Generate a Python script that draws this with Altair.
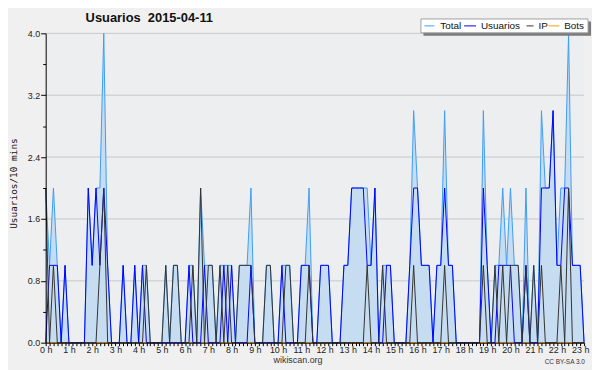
import altair as alt
import pandas as pd

# ---- data: one value every 10 minutes from 0:00 ----
slot = list(range(140))
total = [2, 1, 2, 1, 0, 1, 0, 0, 0, 0,
         0, 2, 1, 2, 2, 4, 1, 0, 0, 0,
         1, 0, 0, 1, 0, 1, 1, 0, 0, 0,
         0, 1, 0, 1, 1, 0, 0, 1, 1, 0,
         2, 1, 1, 1, 0, 1, 1, 1, 1, 0,
         1, 1, 1, 2, 0, 0, 0, 1, 1, 0,
         0, 1, 1, 1, 0, 0, 1, 1, 2, 0,
         0, 1, 1, 1, 0, 0, 0, 1, 1, 2,
         2, 2, 2, 2, 1, 2, 0, 1, 1, 1,
         0, 0, 0, 0, 1, 3, 2, 1, 1, 1,
         0, 1, 1, 3, 1, 1, 0, 0, 0, 0,
         0, 0, 0, 3, 1, 0, 1, 1, 2, 1,
         2, 1, 1, 0, 2, 0, 1, 0, 3, 2,
         2, 3, 1, 2, 2, 4, 1, 1, 1, 0]
usuarios = [0, 1, 1, 1, 0, 1, 0, 0, 0, 0,
            0, 2, 1, 2, 1, 2, 1, 0, 0, 0,
            1, 0, 0, 1, 0, 1, 0, 0, 0, 0,
            0, 0, 0, 0, 0, 0, 0, 1, 0, 0,
            0, 1, 0, 0, 0, 0, 1, 0, 1, 0,
            0, 0, 0, 1, 0, 0, 0, 0, 0, 0,
            0, 1, 0, 0, 0, 0, 1, 1, 1, 0,
            0, 1, 1, 1, 0, 0, 0, 1, 1, 2,
            2, 2, 2, 1, 1, 2, 0, 0, 1, 1,
            0, 0, 0, 0, 1, 2, 2, 1, 1, 1,
            0, 1, 1, 2, 1, 1, 0, 0, 0, 0,
            0, 0, 0, 2, 1, 0, 0, 1, 1, 1,
            1, 0, 0, 0, 1, 0, 0, 0, 2, 2,
            2, 3, 1, 1, 2, 2, 1, 1, 1, 0]
ip = [2, 0, 1, 0, 0, 0, 0, 0, 0, 0,
      0, 0, 0, 0, 1, 2, 0, 0, 0, 0,
      0, 0, 0, 0, 0, 0, 1, 0, 0, 0,
      0, 1, 0, 1, 1, 0, 0, 0, 1, 0,
      2, 0, 1, 1, 0, 1, 0, 1, 0, 0,
      1, 1, 1, 1, 0, 0, 0, 1, 1, 0,
      0, 0, 1, 1, 0, 0, 0, 0, 1, 0,
      0, 0, 0, 0, 0, 0, 0, 0, 0, 0,
      0, 0, 0, 1, 0, 0, 0, 1, 0, 0,
      0, 0, 0, 0, 0, 1, 0, 0, 0, 0,
      0, 0, 0, 1, 0, 0, 0, 0, 0, 0,
      0, 0, 0, 1, 0, 0, 1, 0, 1, 0,
      1, 1, 1, 0, 1, 0, 1, 0, 1, 0,
      0, 0, 0, 1, 0, 2, 0, 0, 0, 0]
bots = [0, 0, 0, 0, 0, 0, 0, 0, 0, 0,
        0, 0, 0, 0, 0, 0, 0, 0, 0, 0,
        0, 0, 0, 0, 0, 0, 0, 0, 0, 0,
        0, 0, 0, 0, 0, 0, 0, 0, 0, 0,
        0, 0, 0, 0, 0, 0, 0, 0, 0, 0,
        0, 0, 0, 0, 0, 0, 0, 0, 0, 0,
        0, 0, 0, 0, 0, 0, 0, 0, 0, 0,
        0, 0, 0, 0, 0, 0, 0, 0, 0, 0,
        0, 0, 0, 0, 0, 0, 0, 0, 0, 0,
        0, 0, 0, 0, 0, 0, 0, 0, 0, 0,
        0, 0, 0, 0, 0, 0, 0, 0, 0, 0,
        0, 0, 0, 0, 0, 0, 0, 0, 0, 0,
        0, 0, 0, 0, 0, 0, 0, 0, 0, 0,
        0, 0, 0, 0, 0, 0, 0, 0, 0, 0]

hour_labels = ["0 h", "1 h", "2 h", "3 h", "4 h", "5 h", "6 h", "7 h", "8 h",
               "9 h", "10 h", "11 h", "12 h", "13 h", "14 h", "15 h", "16 h",
               "17 h", "18 h", "19 h", "20 h", "21 h", "22 h", "23 h"]
y_ticks = [0.0, 0.4, 0.8, 1.2, 1.6, 2.0, 2.4, 2.8, 3.2, 3.6, 4.0]
grid_values = [0.8, 1.6, 2.4, 3.2, 4.0]
series_names = ["Total", "Usuarios", "IP", "Bots"]
series_colors = ["#3d9df5", "#0000ff", "#333333", "#ff9900"]

title_text = "Usuarios\u00a0\u00a02015-04-11"
y_title = "Usuarios/10 mins"
footer_text = "wikiscan.org"
license_text = "CC BY-SA 3.0"

df = pd.DataFrame({"slot": slot, "total": total, "usuarios": usuarios,
                   "ip": ip, "bots": bots})

FONT = "Liberation Sans"
label_arr = "[" + ",".join("'%s'" % s for s in hour_labels) + "]"

x_enc = alt.X(
    "slot:Q",
    scale=alt.Scale(domain=[0, 139], nice=False, zero=False),
    axis=alt.Axis(values=slot, labelExpr="datum.value % 6 == 0 ? " + label_arr + "[datum.value / 6] : ''",
                  tickSize=3, labelFlush=False, labelOverlap=False, grid=False, title=None,
                  domainColor="black", tickColor="black", labelFont=FONT, labelFontSize=9,
                  labelColor="#222222", labelPadding=0, zindex=1),
)
y_scale = alt.Scale(domain=[0, 4], nice=False)
y_axis = alt.Axis(values=y_ticks,
                  labelExpr="round(datum.value*10) % 8 == 0 ? format(datum.value, '.1f') : ''",
                  tickSize={"condition": {"test": "round(datum.value*10) % 8 == 0", "value": 5}, "value": 3},
                  grid=False, title=None, domainColor="black", tickColor="black",
                  labelFont=FONT, labelFontSize=9, labelColor="#222222", labelPadding=1, zindex=1)

base = alt.Chart(df).encode(x=x_enc)

grid = alt.Chart(pd.DataFrame({"g": grid_values})).mark_rule(color="#c8c8c8", strokeWidth=1).encode(
    y=alt.Y("g:Q", scale=y_scale, axis=y_axis))
area = base.mark_area(color="#c6dcf0", opacity=1).encode(y=alt.Y("total:Q", scale=y_scale, axis=y_axis))
line_of = {}
for field, col in zip(["total", "usuarios", "ip", "bots"], series_colors):
    line_of[field] = base.mark_line(color=col, strokeWidth=1).encode(
        y=alt.Y(field + ":Q", scale=y_scale, axis=y_axis))
lines = [line_of["bots"], line_of["total"], line_of["usuarios"], line_of["ip"]]

one = pd.DataFrame({"a": [0]})

# legend box
leg_shadow = alt.Chart(one).mark_rect(color="#7a7a7a").encode(
    x=alt.value(381), x2=alt.value(550), y=alt.value(-12), y2=alt.value(2.5))
leg_box = alt.Chart(one).mark_rect(fill="white", stroke="#a0a0a0", strokeWidth=1).encode(
    x=alt.value(378.5), x2=alt.value(547), y=alt.value(-14.5), y2=alt.value(-0.5))
swatch_start = [382, 422, 485, 507]
swatch_end = [392, 434, 492, 518]
text_start = [398, 439, 497, 523]
legend_layers = []
for name, col, s0, s1, t0 in zip(series_names, series_colors, swatch_start, swatch_end, text_start):
    legend_layers.append(alt.Chart(one).mark_rule(color=col, strokeWidth=1).encode(
        x=alt.value(s0), x2=alt.value(s1), y=alt.value(-7.5)))
    legend_layers.append(alt.Chart(one).mark_text(text=name, font=FONT, fontSize=10, color="#111111",
                                                  align="left", baseline="alphabetic").encode(
        x=alt.value(t0), y=alt.value(-4)))

title = alt.Chart(one).mark_text(text=title_text, font=FONT, fontSize=13, fontWeight="bold",
                                 color="#111111", align="center", baseline="alphabetic").encode(
    x=alt.value(104.5), y=alt.value(-11.5))
ytitle = alt.Chart(one).mark_text(text=y_title, font="DejaVu Sans Mono", fontSize=9.5, angle=270,
                                  color="#111111", align="center", baseline="middle").encode(
    x=alt.value(-32), y=alt.value(151.5))
footer = alt.Chart(one).mark_text(text=footer_text, font=FONT, fontSize=9, color="#333333",
                                  align="center", baseline="alphabetic").encode(
    x=alt.value(254.5), y=alt.value(332))
lic = alt.Chart(one).mark_text(text=license_text, font=FONT, fontSize=6.5, color="#333333",
                               align="center", baseline="alphabetic").encode(
    x=alt.value(523.5), y=alt.value(333))

chart = alt.layer(grid, area, *lines, leg_shadow, leg_box, *legend_layers, title, ytitle, footer, lic).properties(
    width=543, height=312,
    padding={"left": 38, "top": 24, "right": 8, "bottom": 26},
    autosize=alt.AutoSizeParams(type="none"),
    background="#f0f0f0",
).configure_view(stroke=None, fill="#eceef0")

chart.save("out.html", embed_options={"renderer": "svg", "actions": False})
